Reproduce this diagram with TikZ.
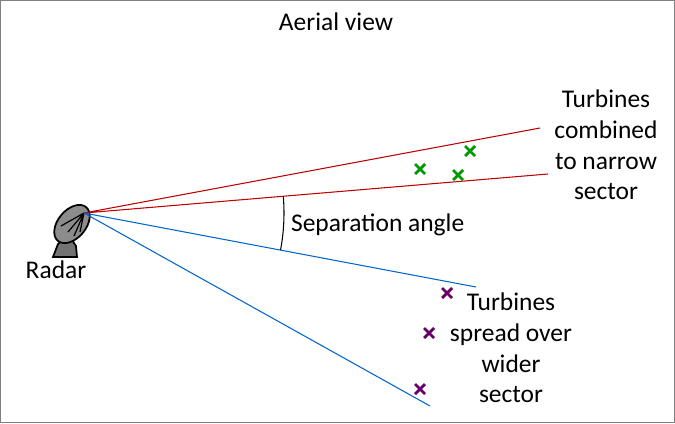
\documentclass[tikz,border=0pt]{standalone}
\usepackage{fontspec}
\setmainfont{Carlito}
\usetikzlibrary{positioning, calc}
\tikzset{
  lbl/.style={font=\fontsize{14.5}{17.5}\selectfont, align=center, inner sep=1pt},
  cross/.style={line width=1.6pt},
  redray/.style={draw=red!75!black, line width=0.6pt},
  blueray/.style={draw=blue!50!cyan!80!black, line width=0.6pt}
}
\newcommand{\turbmark}[2]{\draw[cross,#2] ($(#1)+(-5,-5)$) -- ($(#1)+(5,5)$) ($(#1)+(-5,5)$) -- ($(#1)+(5,-5)$);}
\begin{document}
\begin{tikzpicture}[x=0.02cm, y=-0.02cm]
		\useasboundingbox (0,0) rectangle (675,423);
		\draw[black!50, line width=0.8pt] (0.5,0.5) rectangle (674.5,422.5);
		% radar
		\coordinate (radar) at (84,213);
		\filldraw[fill=black!55, line width=1pt] (53,257) -- (58,244) -- (68,234) -- (76,246) -- (77,257) -- cycle;
		\filldraw[fill=black!45, line width=1pt, rotate around={-40:(72,224)}] (72,224) ellipse (14 and 22);
		\draw[line width=0.7pt] (radar) -- (68,232) (radar) -- (74,236) (radar) -- (61,226) (radar) -- (80,232);
		\node[lbl] (radarlbl) at (56,270) {Radar};
		% rays
		\coordinate (r1) at (540,128);
		\coordinate (r2) at (548,174);
		\coordinate (b1) at (476,287);
		\coordinate (b2) at (430,406);
		\draw[redray] (radar) -- (r1) (radar) -- (r2);
		\draw[blueray] (radar) -- (b1) (radar) -- (b2);
		% separation angle
		\draw[line width=0.6pt] ($(radar)+(-4.8:200)$) arc[start angle=-4.8, end angle=10.7, radius=200];
		\node[lbl, anchor=west] (seplbl) at (289,225) {Separation angle};
		% turbines
		\coordinate (g1) at (420,169);
		\coordinate (g2) at (470,151);
		\coordinate (g3) at (458,175);
		\coordinate (p1) at (447,293);
		\coordinate (p2) at (429,333);
		\coordinate (p3) at (420,389);
		\foreach \t in {g1,g2,g3} {\turbmark{\t}{green!60!black}}
		\foreach \t in {p1,p2,p3} {\turbmark{\t}{violet!80!black}}
		\node[lbl] (narrowlbl) at (606,145) {Turbines\\combined\\to narrow\\sector};
		\node[lbl] (widelbl) at (511,348) {Turbines\\spread over\\wider\\sector};
		\node[lbl] (title) at (336,22) {Aerial view};
\end{tikzpicture}
\end{document}
